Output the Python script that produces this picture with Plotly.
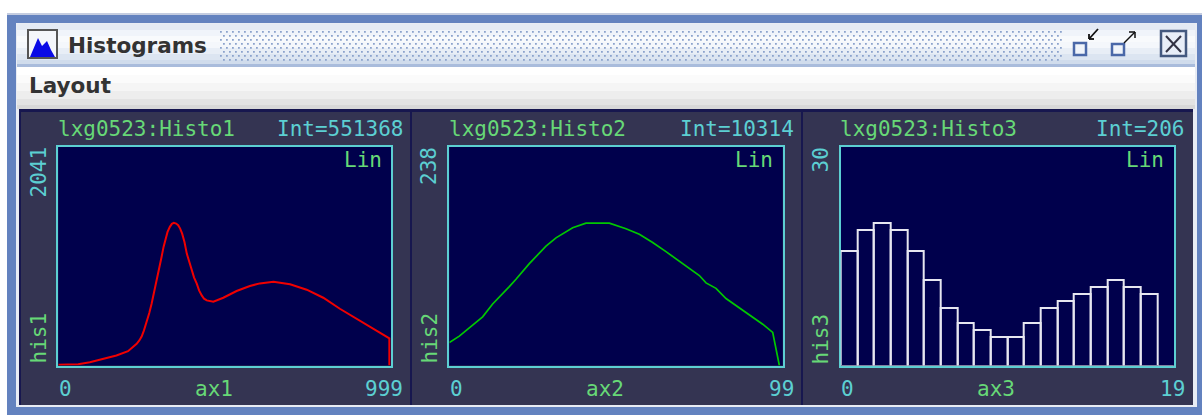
import plotly.graph_objects as go

W, H = 1202, 415

# ---- data ----
his1_bins = [0, 60, 95, 135, 175, 210, 236, 244, 251, 258, 266, 274, 281, 289, 296, 304, 311, 317, 323, 329, 336, 342, 348, 355, 361, 367, 373, 380, 387, 394, 402, 409, 417, 424, 432, 439, 447, 457, 467, 497, 537, 577, 607, 648, 698, 748, 798, 848, 899, 949, 997, 997]
his1_vals = [6, 12, 31, 59, 94, 134, 203, 234, 271, 328, 406, 490, 577, 686, 796, 905, 1014, 1108, 1186, 1248, 1295, 1323, 1332, 1326, 1310, 1279, 1232, 1154, 1045, 967, 889, 821, 764, 702, 655, 624, 608, 599, 596, 633, 696, 743, 767, 783, 758, 708, 633, 530, 437, 343, 253, 0]
his2_bins = [0, 3, 6, 10, 13, 16, 18, 20, 24, 29, 32, 37, 41, 48, 53, 57, 61, 65, 68, 71, 75, 77, 80, 83, 87, 90, 94, 97, 99]
his2_vals = [25, 32, 41, 53, 67, 78, 86, 94, 111, 130, 139, 150, 155, 155, 149, 143, 134, 124, 116, 109, 98, 90, 84, 73, 63, 55, 45, 36, 0]
his3_bins = list(range(20))
his3_vals = [16, 19, 20, 19, 16, 12, 8, 6, 5, 4, 4, 6, 8, 9, 10, 11, 12, 11, 10, 0]

titles = ["lxg0523:Histo1", "lxg0523:Histo2", "lxg0523:Histo3"]
ints = ["Int=551368", "Int=10314", "Int=206"]
ymax_labels = ["2041", "238", "30"]
y_names = ["his1", "his2", "his3"]
x_names = ["ax1", "ax2", "ax3"]
x_max_labels = ["999", "99", "19"]

GREEN = "#67D877"
CYAN = "#5CCFD2"
PANEL = "#343452"
PLOT = "#00004C"
MONO = "DejaVu Sans Mono"


def px(x):
    return x / W


def py(y):
    return 1 - y / H


def rect(x0, y0, x1, y1, fill, line=None, lw=0):
    return dict(type="rect", xref="paper", yref="paper", x0=px(x0), x1=px(x1), y0=py(y0), y1=py(y1),
                fillcolor=fill, line=dict(color=line or fill, width=lw), layer="below")


def seg(x0, y0, x1, y1, color, lw=2):
    return dict(type="line", xref="paper", yref="paper", x0=px(x0), x1=px(x1), y0=py(y0), y1=py(y1),
                line=dict(color=color, width=lw), layer="below")


shapes = [
    rect(7, 14, W, H, "#6382BF"),
    rect(7, 13, W, 15, "#C4CCE0"),
    rect(16, 23, 1197, 407, "#E8ECF4"),
]
# title bar gradient
tb = [(24, "#E4EAF4"), (30, "#F0F4FA"), (36, "#F8FAFC"), (42, "#F4F7FB"), (48, "#E8EEF6"), (54, "#DCE5F1"), (60, "#D0DCEC")]
for i, (y, c) in enumerate(tb):
    shapes.append(rect(17, y, 1195, tb[i + 1][0] if i + 1 < len(tb) else 65, c))
shapes.append(rect(17, 64, 1195, 67, "#A9BCDC"))
# menu bar gradient
mb = [(67, "#FFFFFF"), (75, "#FBFBFB"), (83, "#F5F5F5"), (91, "#EDEDED"), (99, "#E3E3E3"), (105, "#D8D8D8")]
for i, (y, c) in enumerate(mb):
    shapes.append(rect(17, y, 1195, mb[i + 1][0] if i + 1 < len(mb) else 109, c))

# title-bar stipple
d = ""
for r in range(8):
    yy = 31 + r * 4
    xx = 220 + (r % 2) * 3
    while xx < 1062:
        x0, x1, y0, y1 = px(xx), px(xx + 1.8), py(yy), py(yy + 1.8)
        d += f"M{x0:.5f},{y0:.5f}L{x1:.5f},{y0:.5f}L{x1:.5f},{y1:.5f}L{x0:.5f},{y1:.5f}Z"
        xx += 6
shapes.append(dict(type="path", xref="paper", yref="paper", path=d, fillcolor="#8BA2CC",
                   line=dict(width=0), layer="below"))

# dark content area
shapes += [
    rect(19, 109, 1193, 405, PANEL),
    rect(19, 109, 1193, 112, "#17174F"),
    rect(19, 109, 21, 405, "#17174F"),
    rect(410, 109, 412, 405, "#17174F"),
    rect(801, 109, 803, 405, "#17174F"),
]

# window icon
shapes += [
    rect(28, 30, 57, 58, "#F4F6FA", "#555555", 2),
    dict(type="path", xref="paper", yref="paper", fillcolor="#0A0AE6", line=dict(width=0), layer="below",
         path="M{},{}L{},{}L{},{}L{},{}L{},{}L{},{}L{},{}Z".format(
             px(30), py(57), px(38), py(38), px(42), py(46), px(47), py(41), px(51), py(50), px(55), py(57), px(30), py(57))),
    # minimise
    rect(1074, 43, 1086, 55, "#F0F4FA", "#4A68A8", 2.5),
    seg(1089, 39, 1098, 29, "#111111", 1.8),
    seg(1089, 39, 1094, 39, "#111111", 1.8),
    seg(1089, 39, 1089, 34, "#111111", 1.8),
    # maximise
    rect(1112, 44, 1124, 55, "#F0F4FA", "#4A68A8", 2.5),
    seg(1124, 43, 1135, 32, "#111111", 1.5),
    seg(1135, 32, 1129, 32, "#111111", 1.5),
    seg(1135, 32, 1135, 38, "#111111", 1.5),
    # close
    rect(1161, 31, 1186, 56, "#E8EEF8", "#44597F", 2.5),
    seg(1166, 36, 1181, 52, "#333344", 2),
    seg(1181, 36, 1166, 52, "#333344", 2),
]

fig = go.Figure()

frames = [(58.3, 391), (449.3, 782.7), (840.7, 1174)]
TOP, BOT = 147, 365.5
for x0, x1 in frames:
    shapes.append(rect(x0, TOP, x1, BOT, PLOT))

fig.add_trace(go.Scatter(x=his1_bins, y=his1_vals, mode="lines", line=dict(color="#F00000", width=2),
                         xaxis="x", yaxis="y", hoverinfo="skip"))
fig.add_trace(go.Scatter(x=his2_bins, y=his2_vals, mode="lines", line=dict(color="#00C800", width=1.7),
                         xaxis="x2", yaxis="y2", hoverinfo="skip"))
fig.add_trace(go.Bar(x=his3_bins, y=his3_vals, width=1, marker=dict(color="rgba(0,0,0,0)",
                     line=dict(color="#E6E6F0", width=2)), xaxis="x3", yaxis="y3", hoverinfo="skip"))

ranges_x = [[0, 1002], [0, 100], [-0.5, 19.5]]
ranges_y = [[0, 2041], [0, 238], [0, 30.6]]
layout_axes = {}
ann = []


def text(x, y, s, color, size=21, anchor="left", angle=0, family=MONO, **kw):
    ann.append(dict(xref="paper", yref="paper", x=px(x), y=py(y), text=s, showarrow=False, xanchor=anchor,
                    yanchor="middle", textangle=angle, font=dict(family=family, size=size, color=color), **kw))


for i, (x0, x1) in enumerate(frames):
    sfx = "" if i == 0 else str(i + 1)
    common = dict(showgrid=False, zeroline=False, showticklabels=False, ticks="", showline=True,
                  linecolor=CYAN, linewidth=2, mirror=True, layer="below traces")
    layout_axes["xaxis" + sfx] = dict(domain=[px(x0), px(x1)], range=ranges_x[i], anchor="y" + sfx, **common)
    layout_axes["yaxis" + sfx] = dict(domain=[py(BOT), py(TOP)], range=ranges_y[i], anchor="x" + sfx, **common)
    off = [0, 391, 782][i]
    text(56 + off, 129, titles[i], GREEN)
    text(405 + off, 129, ints[i], CYAN, anchor="right")
    text(384 + off, 160, "Lin", GREEN, anchor="right")
    text(65 + off, 389, "0", CYAN, anchor="center")
    text(214 + off, 389, x_names[i], GREEN, anchor="center")
    text(405 + off, 389, x_max_labels[i], CYAN, anchor="right")
    ann.append(dict(xref="paper", yref="paper", x=px(38 + off), y=py(145), text=ymax_labels[i], showarrow=False,
                    xanchor="center", yanchor="top", textangle=-90, font=dict(family=MONO, size=21, color=CYAN)))
    ann.append(dict(xref="paper", yref="paper", x=px(38 + off), y=py(366), text=y_names[i], showarrow=False,
                    xanchor="center", yanchor="bottom", textangle=-90, font=dict(family=MONO, size=21, color=GREEN)))

text(66, 45, "<b>Histograms</b>", "#333333", size=21.5, family="DejaVu Sans")
text(27, 86, "<b>Layout</b>", "#333333", size=21.5, family="DejaVu Sans")

fig.update_layout(width=W, height=H, margin=dict(l=0, r=0, t=0, b=0), showlegend=False,
                  paper_bgcolor="white", plot_bgcolor=PLOT, shapes=shapes, annotations=ann,
                  bargap=0, **layout_axes)
fig.write_html("out.html", config=dict(displayModeBar=False),
               post_script="document.body.style.margin='0';document.documentElement.style.overflow='hidden';")
